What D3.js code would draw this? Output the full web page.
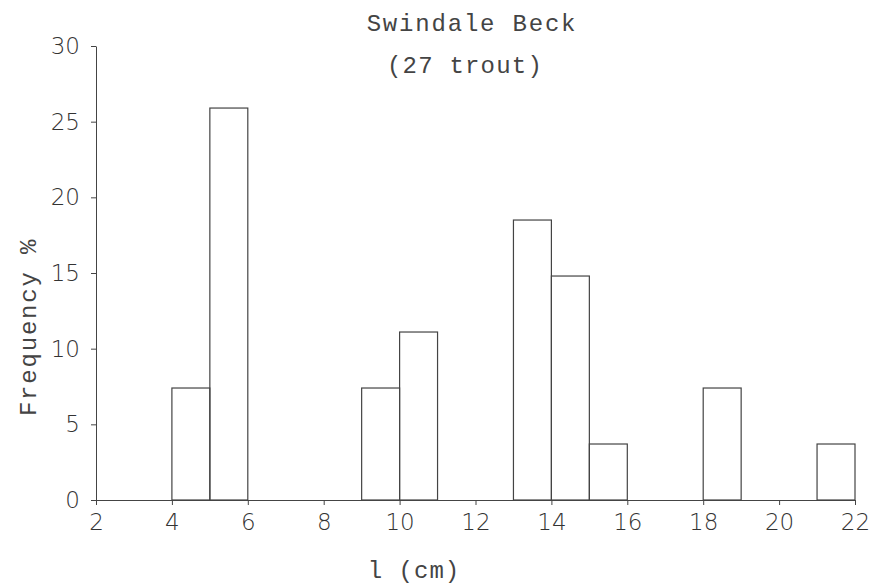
<!DOCTYPE html>
<html>
<head>
<meta charset="utf-8">
<script src="https://cdn.jsdelivr.net/npm/d3@7"></script>
<style>
  body { margin: 0; background: #fff; }
  .axis path, .axis line { stroke: #444; stroke-width: 1; }
  .axis text { font-family: "DejaVu Sans", sans-serif; font-weight: 200; font-size: 23px; fill: #333; }
  .title { font-family: "Liberation Mono", monospace; fill: #444; }
</style>
</head>
<body>
<svg id="chart" width="877" height="588"></svg>
<script>
// length bins (cm, lower edge), each 1 cm wide
var binStart = [4, 5, 9, 10, 13, 14, 15, 18, 21];
// frequency % of 27 trout
var freq = [7.4, 25.9, 7.4, 11.1, 18.5, 14.8, 3.7, 7.4, 3.7];
var xTicks = [2, 4, 6, 8, 10, 12, 14, 16, 18, 20, 22];
var yTicks = [0, 5, 10, 15, 20, 25, 30];

var svg = d3.select("#chart");

var x = d3.scaleLinear().domain([2, 22]).range([96, 855]);
var y = d3.scaleLinear().domain([0, 30]).range([500, 46]);

// bars, outline only
svg.selectAll("rect.bar")
  .data(binStart)
  .enter()
  .append("rect")
  .attr("class", "bar")
  .attr("x", d => x(d))
  .attr("width", d => x(d + 1) - x(d))
  .attr("y", (d, i) => y(freq[i]))
  .attr("height", (d, i) => y(0) - y(freq[i]))
  .style("fill", "none")
  .style("stroke", "#444")
  .style("stroke-width", 1.2);

let xAxis = d3.axisBottom(x)
  .tickValues(xTicks)
  .tickSize(5)
  .tickPadding(9)
  .tickSizeOuter(0);

svg.append("g")
  .attr("class", "axis")
  .attr("transform", `translate(0, ${y(0)})`)
  .call(xAxis);

let yAxis = d3.axisLeft(y)
  .tickValues(yTicks)
  .tickSize(5)
  .tickPadding(11)
  .tickSizeOuter(0);

svg.append("g")
  .attr("class", "axis")
  .attr("transform", `translate(${x(2)}, 0)`)
  .call(yAxis);

svg.append("text")
  .attr("class", "title")
  .attr("x", 472)
  .attr("y", 31)
  .style("text-anchor", "middle")
  .style("font-size", "24px")
  .style("letter-spacing", "1.8px")
  .text("Swindale Beck");

svg.append("text")
  .attr("class", "title")
  .attr("x", 465)
  .attr("y", 73)
  .style("text-anchor", "middle")
  .style("font-size", "24px")
  .style("letter-spacing", "1.2px")
  .text("(27 trout)");

svg.append("text")
  .attr("class", "title")
  .attr("x", 414)
  .attr("y", 578)
  .style("text-anchor", "middle")
  .style("font-size", "24px")
  .style("letter-spacing", "1px")
  .text("l (cm)");

svg.append("text")
  .attr("class", "title")
  .attr("transform", "translate(36, 327) rotate(-90)")
  .style("text-anchor", "middle")
  .style("font-size", "24px")
  .style("letter-spacing", "1.8px")
  .text("Frequency %");
</script>
</body>
</html>
